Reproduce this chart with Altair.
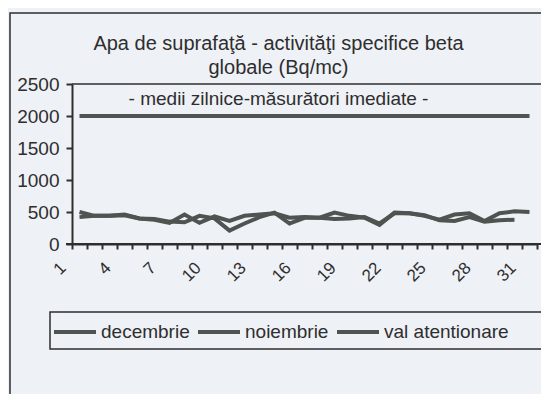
import altair as alt
import pandas as pd

days = list(range(1, 32))
decembrie = [420, 440, 440, 460, 400, 390, 350, 340, 440, 400, 210, 320, 420, 490, 320,
             410, 410, 490, 440, 410, 300, 490, 480, 440, 380, 460, 480, 360, 480, 510, 500]
noiembrie = [500, 440, 440, 450, 400, 380, 330, 460, 330, 430, 360, 440, 460, 480, 410,
             420, 410, 390, 400, 420, 320, 480, 480, 450, 370, 360, 420, 350, 370, 380]
val_atentionare = [2000] * 31
series_names = ["decembrie", "noiembrie", "val atentionare"]
title_lines = ["Apa de suprafaţă - activităţi specifice beta", "globale (Bq/mc)"]
subtitle_line = "- medii zilnice-măsurători imediate -"
y_ticks = [0, 500, 1000, 1500, 2000, 2500]

rows = []
for name, vals in zip(series_names, [decembrie, noiembrie, val_atentionare]):
    for d, v in zip(days, vals):
        rows.append({"zi": d, "serie": name, "valoare": v})
df = pd.DataFrame(rows)

BG = "#eef1f6"
LINE = "#4e5450"
INK = "#2e2e2e"
FONT = "Liberation Sans"

x_tick_vals = [d - 0.5 for d in days] + [31.5]

lines = alt.Chart(df).mark_line(strokeWidth=4, clip=False).encode(
    x=alt.X("zi:Q", scale=alt.Scale(domain=[0.5, 31.5], nice=False, zero=False),
            axis=alt.Axis(values=x_tick_vals, title=None, grid=False,
                          labelExpr="(datum.value + 0.5) % 3 == 1 ? format(datum.value + 0.5, 'd') : ''",
                          labelOffset=-9, labelAngle=-45, labelAlign="right", labelBaseline="middle",
                          labelOverlap=False, labelFlush=False, labelPadding=16,
                          tickSize=5, tickWidth=2, tickColor=INK, domainColor=INK, domainWidth=2,
                          labelFontSize=17, labelColor=INK, labelFont=FONT)),
    y=alt.Y("valoare:Q", scale=alt.Scale(domain=[0, 2500], nice=False),
            axis=alt.Axis(values=y_ticks, format="d", title=None, grid=False, tickSize=6, tickWidth=2,
                          tickColor=INK, domainColor=INK, domainWidth=2, labelPadding=7,
                          labelFontSize=19, labelColor=INK, labelFont=FONT)),
    color=alt.Color("serie:N", scale=alt.Scale(domain=series_names, range=[LINE, LINE, LINE]),
                    legend=alt.Legend(title=None, orient="none", legendX=-20, legendY=225,
                                      direction="horizontal", symbolType="stroke",
                                      symbolSize=1764, symbolStrokeWidth=4,
                                      labelFontSize=19, labelFont=FONT, labelColor=INK,
                                      labelLimit=300, columnPadding=0, padding=0,
                                      labelOffset=3)),
    detail="serie:N",
)

one = pd.DataFrame({"k": [0]})
frame = alt.Chart(one).mark_rect(fillOpacity=0, stroke=INK, strokeWidth=1.5).encode(
    x=alt.value(-62), x2=alt.value(700), y=alt.value(-71), y2=alt.value(420))
legend_box = alt.Chart(one).mark_rect(fillOpacity=0, stroke=INK, strokeWidth=1.5).encode(
    x=alt.value(-22), x2=alt.value(700), y=alt.value(228), y2=alt.value(265))
top_line = alt.Chart(one).mark_rule(color=INK, strokeWidth=1.5).encode(
    x=alt.value(0), x2=alt.value(480), y=alt.value(0))
bottom_line = alt.Chart(one).mark_rule(color=INK, strokeWidth=2).encode(
    x=alt.value(-6), x2=alt.value(480), y=alt.value(160))

chart = alt.layer(frame, legend_box, top_line, bottom_line, lines).properties(
    width=465, height=160,
    background=BG,
    autosize=alt.AutoSizeParams(type="none"),
    padding={"left": 64, "top": 76, "right": 4, "bottom": 150},
    title=alt.TitleParams(text=title_lines, subtitle=subtitle_line, anchor="middle",
                          dx=-26, offset=-97, font=FONT, fontSize=20, fontWeight="normal",
                          color=INK, lineHeight=24, subtitleFont=FONT, subtitleFontSize=19,
                          subtitleColor=INK, subtitlePadding=12),
).configure_view(stroke=None)

chart.save("out.html", embed_options={"renderer": "svg", "actions": False})
